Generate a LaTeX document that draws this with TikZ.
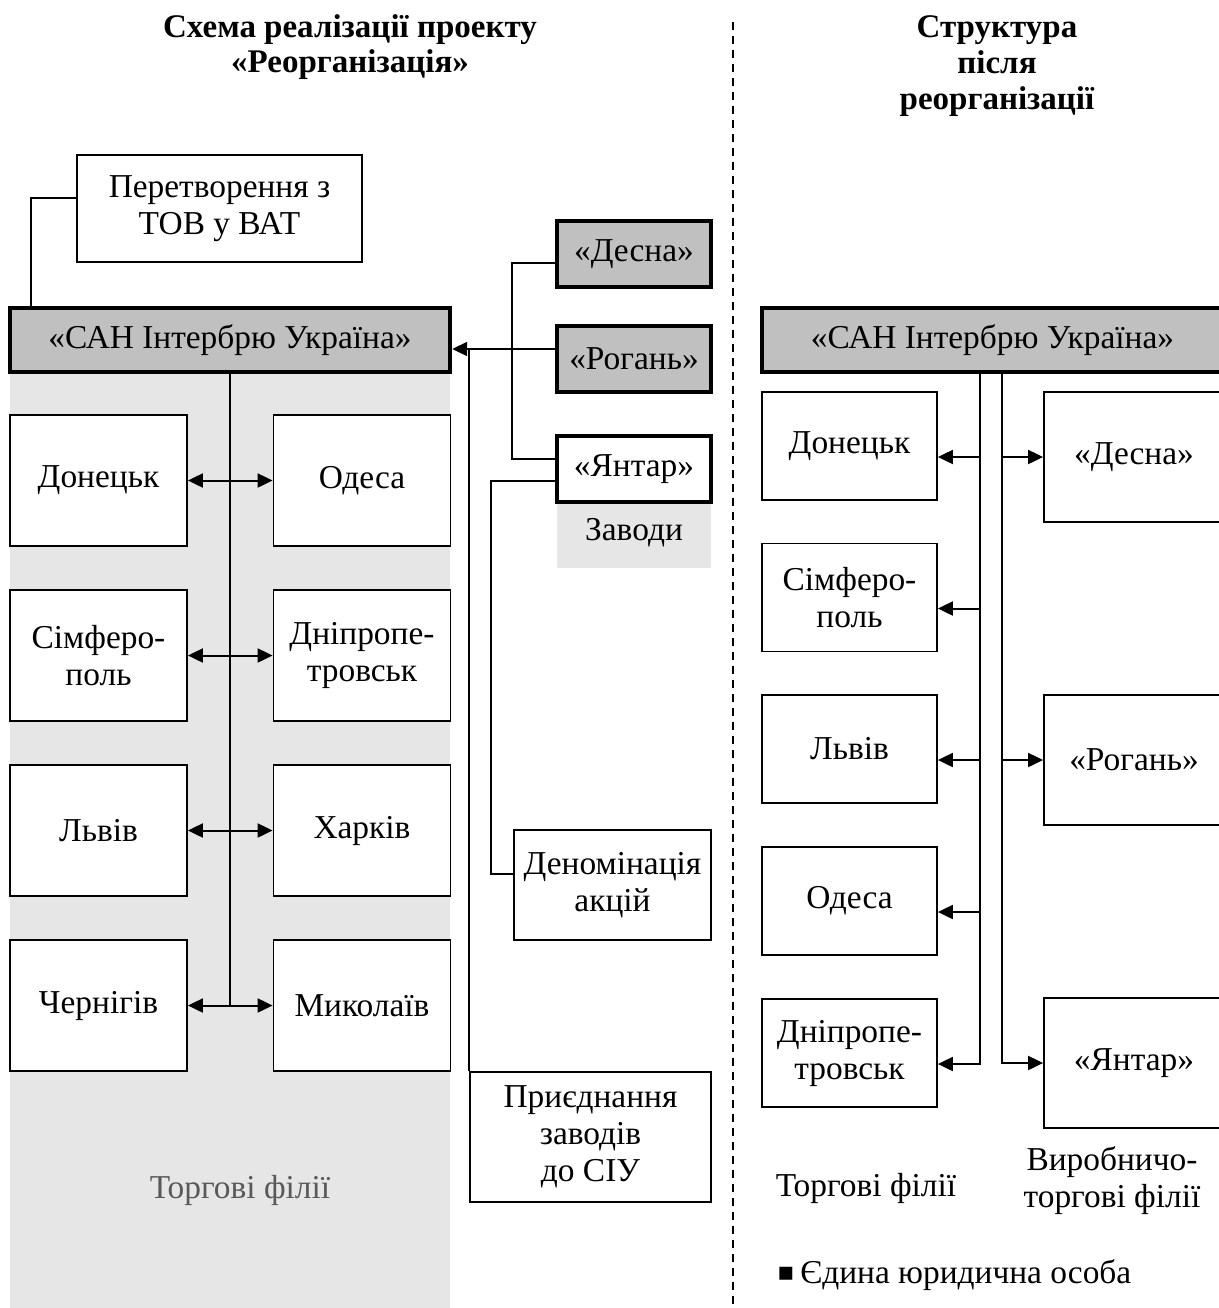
\documentclass[tikz,border=0pt]{standalone}
\usepackage{fontspec}
\setmainfont{Liberation Serif}
\newfontfamily\symfont{DejaVu Sans}
\usetikzlibrary{arrows.meta}
\definecolor{sanfill}{HTML}{C0C0C0}
\definecolor{bgfill}{HTML}{E6E6E6}
\definecolor{notegray}{HTML}{595959}

\begin{document}
\begin{tikzpicture}[x=0.5pt,y=-0.5pt,
    box/.style={draw,line width=0.9pt,fill=white,align=center,inner sep=0pt,font=\fontsize{16.7}{18.5}\selectfont},
    mainbox/.style={box,line width=2.2pt,fill=sanfill,minimum height=32pt},
    plantbox/.style={box,line width=2.2pt,minimum width=77pt,minimum height=33pt},
    cityL/.style={box,minimum width=88.5pt,minimum height=65.5pt},
    cityR/.style={box,minimum width=87.5pt,minimum height=54pt},
    factR/.style={box,minimum width=90pt,minimum height=65pt},
    arr/.style={-{Triangle[length=7.5pt,width=7pt]},line width=1pt},
    darr/.style={{Triangle[length=7.5pt,width=7pt]}-{Triangle[length=7.5pt,width=7pt]},line width=1pt},
    link/.style={line width=1pt},
    title/.style={font=\fontsize{16.5}{17.8}\selectfont\bfseries,align=center},
    note/.style={font=\fontsize{16.7}{18.5}\selectfont,align=center}]
                    \useasboundingbox (0,0) rectangle (1219,1308);

                    % backgrounds
                    \fill[bgfill] (10,372) rectangle (450,1308);
                    \fill[bgfill] (557,502) rectangle (711,568);
                    \draw[line width=1pt,dash pattern=on 4pt off 3pt] (733,22) -- (733,1305);

                    % titles
                    \node[title] at (350,47) (t1) {Схема реалізації проекту\\«Реорганізація»};
                    \node[title] at (997,66) (t2) {Структура\\після\\реорганізації};

                    % left part
                    \node[box,minimum width=142.5pt,minimum height=53.5pt] at (219.5,208.5) (per) {Перетворення з\\ТОВ у ВАТ};
                    \node[mainbox,minimum width=220pt] at (230,340) (lsan) {«САН Інтербрю Україна»};

                    \node[cityL] at (98.5,480.5) (lA1) {Донецьк};
                    \node[cityL] at (362,480.5) (lB1) {Одеса};
                    \node[cityL] at (98.5,655.5) (lA2) {Сімферо-\\поль};
                    \node[cityL] at (362,655.5) (lB2) {Дніпропе-\\тровськ};
                    \node[cityL] at (98.5,830.5) (lA3) {Львів};
                    \node[cityL] at (362,830.5) (lB3) {Харків};
                    \node[cityL] at (98.5,1005.5) (lA4) {Чернігів};
                    \node[cityL] at (362,1005.5) (lB4) {Миколаїв};
                    \node[note,text=notegray] at (240,1190) (ltl) {Торгові філії};

                    \node[plantbox,fill=sanfill] at (634,254) (des) {«Десна»};
                    \node[plantbox,fill=sanfill] at (634,359) (rog) {«Рогань»};
                    \node[plantbox] at (634,469) (jan) {«Янтар»};
                    \node[note] at (634,533) (zav) {Заводи};
                    \node[box,minimum width=98.5pt,minimum height=55pt] at (612.5,885) (den) {Деномінація\\акцій};
                    \node[box,minimum width=120.5pt,minimum height=65pt] at (590.5,1137) (prj) {Приєднання\\заводів\\до СІУ};

                    \coordinate (pa) at ([yshift=5.5pt]per.west);
                    \coordinate (pb) at ([xshift=11.5pt]lsan.north west);
                    \draw[link] (pa) -| (pb);
                    \draw[link] (lsan.south) -- (lsan.south |- lA4.east);
                    \foreach \i in {1,...,4}
                        \draw[darr] (lA\i.east) -- (lB\i.west);

                    \coordinate (ra) at ([yshift=5pt]rog.west);
                    \coordinate (da) at ([yshift=-4.5pt]des.west);
                    \coordinate (ja) at ([yshift=5pt]jan.west);
                    \coordinate (jb) at ([yshift=-6pt]jan.west);
                    \coordinate (dn) at ([yshift=5.5pt]den.west);
                    \draw[arr] (ra) -- (ra -| lsan.east);
                    \draw[link] (prj.north west) -- (prj.north west |- ra);
                    \draw[link] (da) -- ++(-43,0) |- (ja);
                    \draw[link] (jb) -- ++(-64,0) |- (dn);

                    % right part
                    \node[mainbox,minimum width=230.5pt] at (992.5,340) (rsan) {«САН Інтербрю Україна»};
                    \node[cityR] at (849.5,446) (rd1) {Донецьк};
                    \node[cityR] at (849.5,597.5) (rd2) {Сімферо-\\поль};
                    \node[cityR] at (849.5,749) (rd3) {Львів};
                    \node[cityR] at (849.5,901) (rd4) {Одеса};
                    \node[cityR] at (849.5,1053) (rd5) {Дніпропе-\\тровськ};
                    \node[factR] at (1134,457) (rf1) {«Десна»};
                    \node[factR] at (1134,760) (rf2) {«Рогань»};
                    \node[factR] at (1134,1063) (rf3) {«Янтар»};

                    \coordinate (rt1) at (rsan.south -| 980,0);
                    \coordinate (rt2) at (rsan.south -| 1002,0);
                    \foreach \i in {1,...,5}
                        \coordinate (ra\i) at ([yshift=-5.5pt]rd\i.east);
                    \draw[arr] (rt1) |- (ra5);
                    \foreach \i in {1,...,4}
                        \draw[arr] (rt1 |- ra\i) -- (ra\i);
                    \draw[arr] (rt2) |- (rf3.west);
                    \foreach \i in {1,2}
                        \draw[arr] (rt2 |- rf\i.west) -- (rf\i.west);

                    \node[note] at (866,1188) (rtl) {Торгові філії};
                    \node[note] at (1112,1181) (rpl) {Виробничо-\\торгові філії};
                    \node[note,anchor=west] at (770,1275) (one) {\raisebox{1.5pt}{\symfont\fontsize{13}{15}\selectfont ▪}\,Єдина юридична особа};
                \end{tikzpicture}
\end{document}
